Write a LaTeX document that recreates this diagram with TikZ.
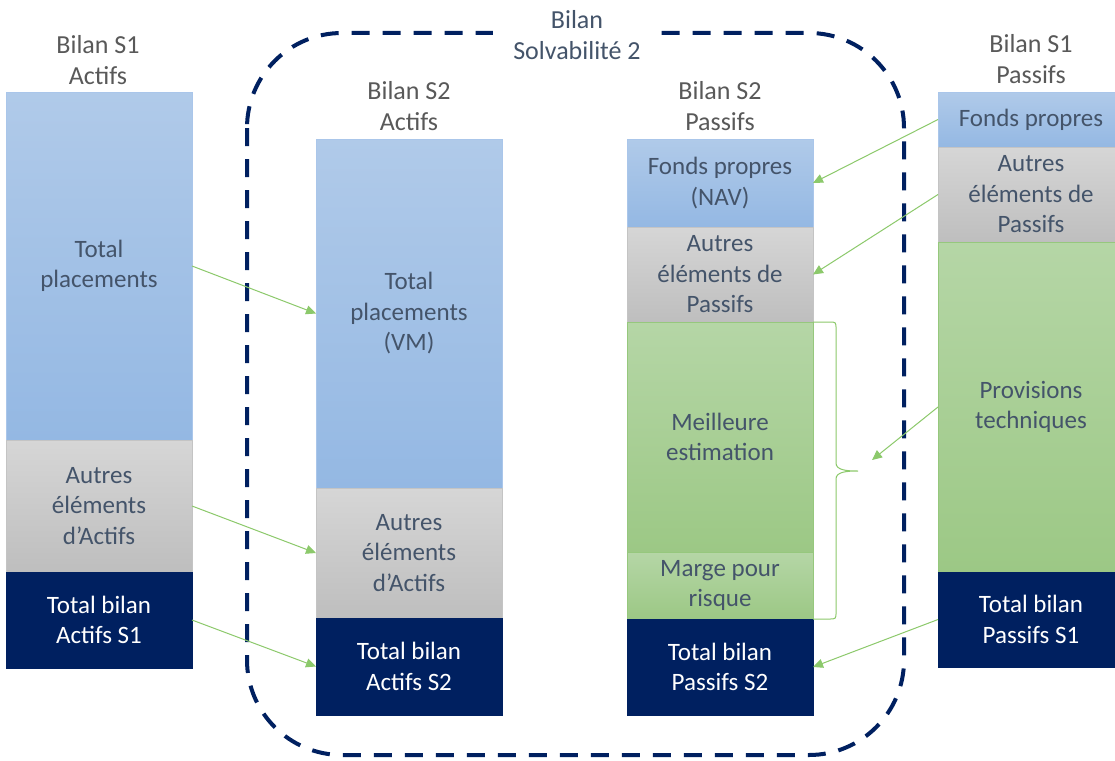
\documentclass[tikz,border=0pt]{standalone}
\usepackage{fontspec}
\setmainfont{Carlito}
\usetikzlibrary{arrows.meta}
\definecolor{navy}{RGB}{0,32,96}
\definecolor{boxtxt}{RGB}{68,84,106}
\definecolor{headtxt}{RGB}{89,89,89}
\definecolor{blueT}{RGB}{176,202,233}
\definecolor{blueB}{RGB}{148,184,227}
\definecolor{blueE}{RGB}{170,198,234}
\definecolor{greyT}{RGB}{214,214,214}
\definecolor{greyB}{RGB}{190,190,190}
\definecolor{greyE}{RGB}{196,196,196}
\definecolor{greenT}{RGB}{181,214,166}
\definecolor{greenB}{RGB}{156,200,133}
\definecolor{greenE}{RGB}{150,200,125}
\definecolor{arrowgreen}{RGB}{140,201,107}
\tikzset{
  blk/.style={rectangle, inner sep=0pt, outer sep=0pt, minimum width=186pt, align=center,
    font=\fontsize{25}{30.5}\selectfont, text=boxtxt, line width=0.8pt},
  bluebox/.style={blk, shading=axis, top color=blueT, bottom color=blueB, draw=blueE},
  greybox/.style={blk, shading=axis, top color=greyT, bottom color=greyB, draw=greyE},
  greenbox/.style={blk, shading=axis, top color=greenT, bottom color=greenB, draw=greenE},
  navybox/.style={blk, fill=navy, draw=navy, text=white},
  head/.style={align=center, font=\fontsize{26}{30.5}\selectfont, text=headtxt, inner sep=2pt},
  link/.style={draw=arrowgreen, line width=1pt, -{Triangle[length=10pt,width=9pt]}},
  bracestyle/.style={draw=arrowgreen, line width=1pt},
  frame/.style={draw=navy, line width=4pt, dash pattern=on 18pt off 13pt, rounded corners=95pt}
}
\begin{document}
\begin{tikzpicture}[x=1pt,y=-1pt]
\useasboundingbox (0,0) rectangle (1115,760);
\fill[white] (0,0) rectangle (1115,760);

% dashed frame
\draw[frame] (247,33) rectangle (904,755);

% S1 Actifs
\node[bluebox, minimum height=348pt] (s1tp) at (99,266) {Total\\placements};
\node[greybox, minimum height=132pt] (s1ae) at (99,506) {Autres\\éléments\\d’Actifs};
\node[navybox, minimum height=96pt] (s1tb) at (99,620) {Total bilan\\Actifs S1};

% S2 Actifs
\node[bluebox, minimum height=349pt] (s2tp) at (409,313.5) {Total\\placements\\(VM)};
\node[greybox, minimum height=130pt] (s2ae) at (409,553) {Autres\\éléments\\d’Actifs};
\node[navybox, minimum height=97pt] (s2tb) at (409,666.5) {Total bilan\\Actifs S2};

% S2 Passifs
\node[bluebox, minimum height=88pt] (s2fp) at (720,183) {Fonds propres\\(NAV)};
\node[greybox, minimum height=95pt] (s2ap) at (720,274.5) {Autres\\éléments de\\Passifs};
\node[greenbox, minimum height=230pt] (s2be) at (720,437) {Meilleure\\estimation};
\node[greenbox, minimum height=67pt] (s2mr) at (720,585.5) {Marge pour\\risque};
\node[navybox, minimum height=96pt] (s2tb2) at (720,667) {Total bilan\\Passifs S2};

% S1 Passifs
\node[bluebox, minimum height=55pt] (s1fp) at (1031,119.5) {Fonds propres};
\node[greybox, minimum height=95pt] (s1ap) at (1031,194.5) {Autres\\éléments de\\Passifs};
\node[greenbox, minimum height=330pt] (s1pt) at (1031,407) {Provisions\\techniques};
\node[navybox, minimum height=95pt] (s1tb2) at (1031,619.5) {Total bilan\\Passifs S1};

% headers
\node[head] (h1) at (98,60) {Bilan S1\\Actifs};
\node[head] (h2) at (409,106) {Bilan S2\\Actifs};
\node[head] (h3) at (720,106) {Bilan S2\\Passifs};
\node[head] (h4) at (1031,59) {Bilan S1\\Passifs};
\node[head, fill=white, text=boxtxt, inner xsep=20pt, inner ysep=4pt] (title) at (577,35) {Bilan\\Solvabilité 2};

% brace
\coordinate (bt) at (872,460);
\draw[bracestyle] (s2be.north east) -- (829,322) .. controls (836,322) .. (836,329)
  -- (836,463) .. controls (836,470) and (846,471) .. (858,471)
  .. controls (846,471) and (836,472) .. (836,479)
  -- (836,612) .. controls (836,619) .. (829,619) -- (s2mr.south east);

% connectors
\draw[link] (s1tp.east) -- (s2tp.west);
\draw[link] (s1ae.east) -- (s2ae.west);
\draw[link] (s1tb.east) -- (s2tb.west);
\draw[link] (s1fp.west) -- (s2fp.east);
\draw[link] (s1ap.west) -- (s2ap.east);
\draw[link] (s1pt.west) -- (bt);
\draw[link] (s1tb2.west) -- (s2tb2.east);
\end{tikzpicture}
\end{document}
